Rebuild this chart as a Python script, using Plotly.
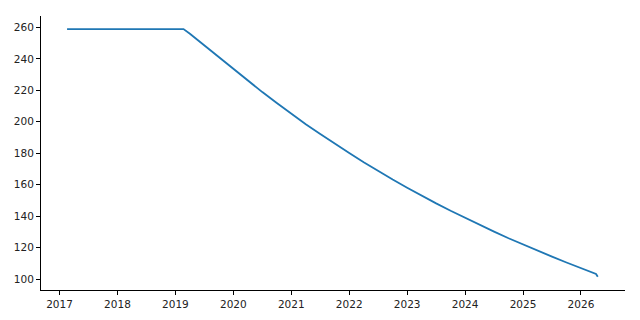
import plotly.graph_objects as go

years = [2017.13, 2019.14, 2019.25, 2019.5, 2019.75, 2020.0, 2020.25, 2020.5, 2020.75,
         2021.0, 2021.25, 2021.5, 2021.75, 2022.0, 2022.25, 2022.5, 2022.75,
         2023.0, 2023.25, 2023.5, 2023.75, 2024.0, 2024.25, 2024.5, 2024.75,
         2025.0, 2025.25, 2025.5, 2025.75, 2026.0, 2026.26, 2026.29]
values = [259.0, 259.0, 256.0, 248.6, 241.1, 233.6, 226.1, 218.9, 211.9,
          205.1, 198.5, 192.2, 186.0, 180.1, 174.3, 168.7, 163.3,
          158.1, 153.0, 148.1, 143.4, 138.8, 134.4, 130.1, 125.9,
          121.9, 118.0, 114.2, 110.5, 107.0, 103.2, 101.4]

xticks = list(range(2017, 2027))
yticks = list(range(100, 261, 20))

fig = go.Figure()
fig.add_trace(go.Scatter(x=years, y=values, mode="lines",
                         line=dict(color="#1f77b4", width=1.8), showlegend=False))

axis_common = dict(showgrid=False, zeroline=False, showline=True, linecolor="black",
                   linewidth=1, ticks="outside", ticklen=4, tickwidth=1, tickcolor="black",
                   automargin=False,
                   tickfont=dict(family="DejaVu Sans", size=10.5, color="#222"))
fig.update_xaxes(range=[2016.68, 2026.76], tickvals=xticks, ticktext=[str(t) for t in xticks],
                 **axis_common)
fig.update_yaxes(range=[93.0, 267.3], tickvals=yticks, ticktext=[str(t) for t in yticks],
                 **axis_common)
fig.update_layout(width=640, height=320, margin=dict(l=41, r=15, t=16, b=30),
                  plot_bgcolor="white", paper_bgcolor="white")
fig.write_html("out.html")
